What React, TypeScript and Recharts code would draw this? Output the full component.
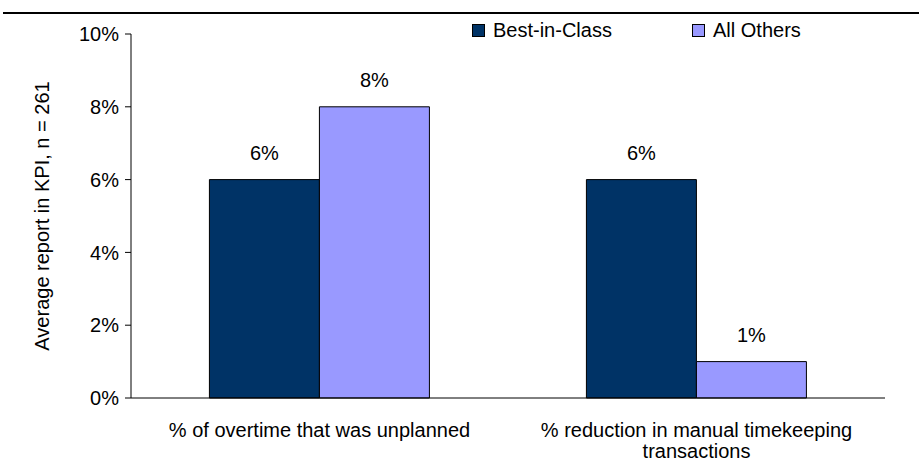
import { BarChart, Bar, XAxis, YAxis, Legend, LabelList } from 'recharts'

const categories = ['% of overtime that was unplanned', '% reduction in manual timekeeping\ntransactions']
const seriesNames = ['Best-in-Class', 'All Others']
const bestInClass = [6, 6]
const allOthers = [8, 1]
const yTicks = [0, 2, 4, 6, 8, 10]
const edgeTicks = [0, 1, 2]

const FONT = '"Liberation Sans", Arial, sans-serif'
const FS = 20

const data = categories.map((name, i) => ({
  name,
  best: bestInClass[i],
  others: allOthers[i],
}))

// category labels, split on \n so the long one wraps like the original
const CategoryTick = (props: any) => {
  const { x, y, payload } = props
  const lines = String(payload.value).split('\n')
  return (
    <g>
      {lines.map((line: string, i: number) => (
        <text key={i} x={x} y={y + 31 + i * 21} textAnchor="middle" fontSize={FS} fill="#000" fontFamily={FONT}>
          {line}
        </text>
      ))}
    </g>
  )
}

const LegendBox = (props: any) => {
  // keep the series order, recharts sorts the payload by name
  const items = [...(props.payload || [])].sort(
    (a: any, b: any) => seriesNames.indexOf(a.value) - seriesNames.indexOf(b.value)
  )
  return (
    <div style={{ display: 'flex', fontFamily: FONT, fontSize: FS, color: '#000' }}>
      {items.map((p: any) => (
        <div key={p.value} style={{ width: 237, display: 'flex', alignItems: 'center' }}>
          <span style={{ width: 11, height: 11, background: p.color, border: '1px solid #000', marginRight: 8 }} />
          <span>{p.value}</span>
        </div>
      ))}
    </div>
  )
}

export default function App() {
  return (
    <div style={{ position: 'absolute', top: 0, left: 0, width: 919, height: 466, background: '#fff' }}>
      <div style={{ position: 'absolute', top: 12, left: 3, width: 916, height: 2, background: '#000' }} />
      <BarChart
        width={919}
        height={466}
        data={data}
        margin={{ top: 34, right: 34, left: 0, bottom: 0 }}
        barCategoryGap="20.8%"
        barGap={0}
      >
        <XAxis
          xAxisId="edges"
          type="number"
          domain={[0, 2]}
          ticks={edgeTicks}
          height={0}
          tick={false}
          tickSize={6}
          axisLine={false}
          tickLine={{ stroke: '#000' }}
        />
        <XAxis
          xAxisId="cat"
          dataKey="name"
          height={68}
          tickLine={false}
          axisLine={{ stroke: '#000' }}
          tick={<CategoryTick />}
          interval={0}
        />
        <YAxis
          width={131}
          domain={[0, 10]}
          ticks={yTicks}
          tickFormatter={(v) => `${v}%`}
          tickSize={6}
          tickMargin={6}
          axisLine={{ stroke: '#000' }}
          tickLine={{ stroke: '#000' }}
          tick={{ fontSize: FS, fill: '#000', fontFamily: FONT }}
          label={{
            value: 'Average report in KPI, n = 261',
            angle: -90,
            position: 'center',
            dx: -23.5,
            fontSize: FS,
            fill: '#000',
            fontFamily: FONT,
          }}
        />
        <Legend
          layout="horizontal"
          verticalAlign="middle"
          align="center"
          content={<LegendBox />}
          wrapperStyle={{ top: 19, left: 472, width: 440 }}
        />
        <Bar xAxisId="cat" dataKey="best" name="Best-in-Class" fill="#003366" stroke="#000" strokeWidth={1} isAnimationActive={false}>
          <LabelList dataKey="best" position="top" offset={20} formatter={(v: any) => `${v}%`} fontSize={FS} fill="#000" fontFamily={FONT} />
        </Bar>
        <Bar xAxisId="cat" dataKey="others" name="All Others" fill="#9999FF" stroke="#000" strokeWidth={1} isAnimationActive={false}>
          <LabelList dataKey="others" position="top" offset={20} formatter={(v: any) => `${v}%`} fontSize={FS} fill="#000" fontFamily={FONT} />
        </Bar>
      </BarChart>
    </div>
  )
}
